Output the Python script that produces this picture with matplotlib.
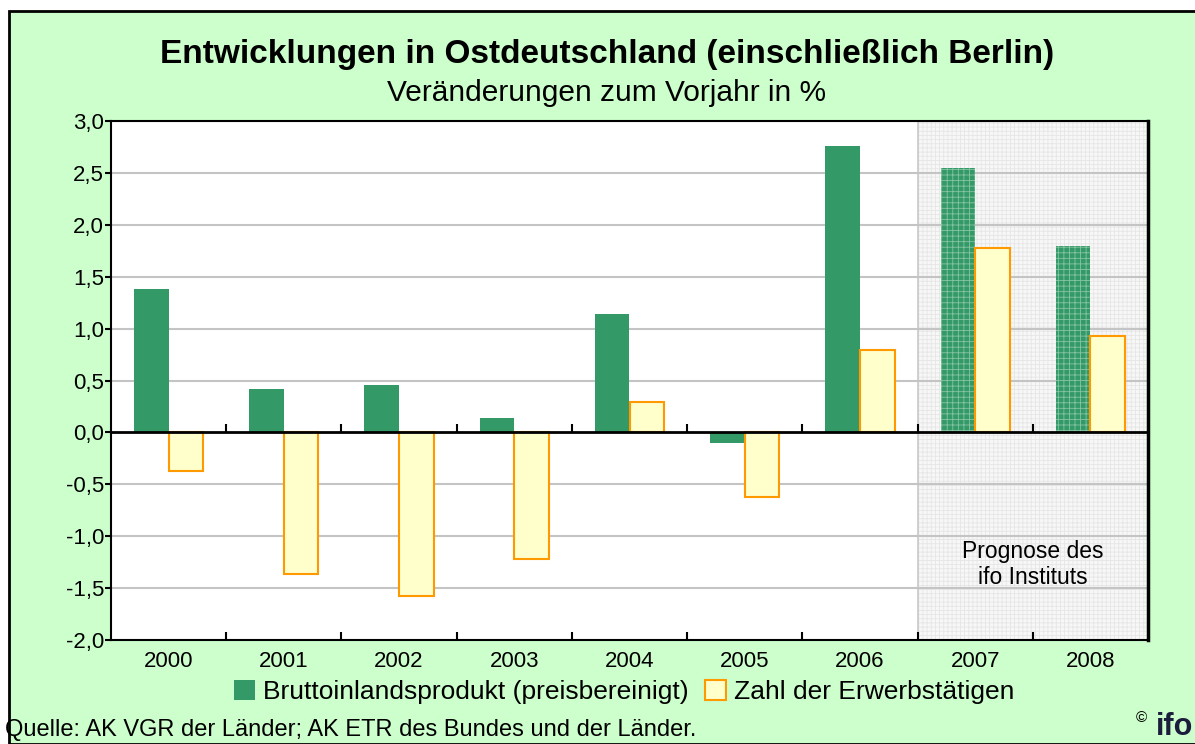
import numpy as np
import matplotlib.pyplot as plt
from matplotlib.patches import Rectangle

plt.rcParams['font.family'] = ['Liberation Sans', 'DejaVu Sans']
plt.rcParams['hatch.linewidth'] = 0.6

# data (Veränderungen zum Vorjahr in %)
years = ['2000', '2001', '2002', '2003', '2004', '2005', '2006', '2007', '2008']
bip = [1.38, 0.42, 0.46, 0.14, 1.14, -0.10, 2.76, 2.55, 1.80]
erwerb = [-0.37, -1.36, -1.58, -1.22, 0.29, -0.62, 0.79, 1.78, 0.93]
forecast = [False, False, False, False, False, False, False, True, True]

green = '#339966'
yellow_face = '#FFFFCC'
yellow_edge = '#FF9900'
bg = '#CCFFCC'

W, H = 1195, 744
fig = plt.figure(figsize=(W / 100, H / 100), dpi=100)
fig.patch.set_facecolor('white')

# green background panel with black border
fig.patches.append(Rectangle((9 / W, 0), 1.0, 1 - 11 / H, transform=fig.transFigure,
                             facecolor=bg, edgecolor='black', linewidth=2, zorder=-10))

ax = fig.add_axes([111 / W, (H - 640) / H, 1037 / W, 519 / H])
ax.set_facecolor('white')

x = np.arange(len(years))
bw = 0.3

# forecast area
fc_start = x[forecast.index(True)] - 0.5
ax.axvspan(fc_start, x[-1] + 0.5, facecolor='#F7F7F7', edgecolor='#E6E6E6',
           hatch='++++', linewidth=0, zorder=0.5)
ax.axvline(fc_start, color='#C8C8C8', lw=1.2, zorder=0.6)

for v in np.arange(-1.5, 3.01, 0.5):
    if abs(v) > 1e-9:
        ax.axhline(v, color='#C4C4C4', lw=1.5, zorder=1)

for i in range(len(years)):
    if forecast[i]:
        ax.bar(x[i] - bw / 2, bip[i], bw, color=green, edgecolor='#86C4A4',
               hatch='+++', linewidth=0, zorder=3)
    else:
        ax.bar(x[i] - bw / 2, bip[i], bw, color=green, linewidth=0, zorder=3)
    ax.bar(x[i] + bw / 2, erwerb[i], bw, color=yellow_face, edgecolor=yellow_edge,
           linewidth=1.5, zorder=3)

ax.axhline(0, color='black', lw=2, zorder=4)
# small ticks on the zero line between groups
ax.vlines(x[:-1] + 0.5, 0, 0.08, color='black', lw=1.5, zorder=4)

ax.set_xlim(-0.5, len(years) - 0.5)
ax.set_ylim(-2.0, 3.0)
yt = np.arange(-2.0, 3.01, 0.5)
ax.set_yticks(yt)
ax.set_yticklabels([f'{v:.1f}'.replace('.', ',') for v in yt], fontsize=16)
ax.tick_params(axis='y', direction='out', length=4, width=1.5, pad=1)

ax.set_xticks(x)
ax.set_xticklabels(years, fontsize=16)
ax.tick_params(axis='x', which='major', length=0, pad=8)
ax.set_xticks(x[:-1] + 0.5, minor=True)
ax.tick_params(axis='x', which='minor', direction='in', length=6, width=1.5)

for s in ax.spines.values():
    s.set_color('black')
    s.set_linewidth(1.5)
ax.spines['right'].set_linewidth(2.5)

ax.text(x[-1] - 0.5, -1.27, 'Prognose des\nifo Instituts', ha='center', va='center',
        fontsize=16.5, linespacing=1.15, zorder=5)

fig.text(607 / W, 1 - 55 / H, 'Entwicklungen in Ostdeutschland (einschließlich Berlin)',
         ha='center', va='center', fontsize=24, fontweight='bold')
fig.text(607 / W, 1 - 93 / H, 'Veränderungen zum Vorjahr in %', ha='center', va='center',
         fontsize=21.5)

h1 = Rectangle((0, 0), 1, 1, facecolor=green, linewidth=0)
h2 = Rectangle((0, 0), 1, 1, facecolor=yellow_face, edgecolor=yellow_edge, linewidth=1.5)
fig.legend([h1, h2], ['Bruttoinlandsprodukt (preisbereinigt)', 'Zahl der Erwerbstätigen'],
           loc='center', bbox_to_anchor=(624 / W, 1 - 692 / H), ncol=2, frameon=False,
           fontsize=19, handlelength=0.8, handleheight=0.8, handletextpad=0.3,
           columnspacing=0.6, borderpad=0)

fig.text(5 / W, 1 - 730 / H, 'Quelle: AK VGR der Länder; AK ETR des Bundes und der Länder.',
         ha='left', va='center', fontsize=17)
fig.text(1141 / W, 1 - 718 / H, '©', ha='center', va='center', fontsize=11)
fig.text(1193 / W, 2 / H, 'ifo', ha='right', va='bottom', fontsize=22, fontweight='bold',
         color='#1C1C3C')

fig.savefig('out.png', dpi=100, facecolor=fig.get_facecolor())
